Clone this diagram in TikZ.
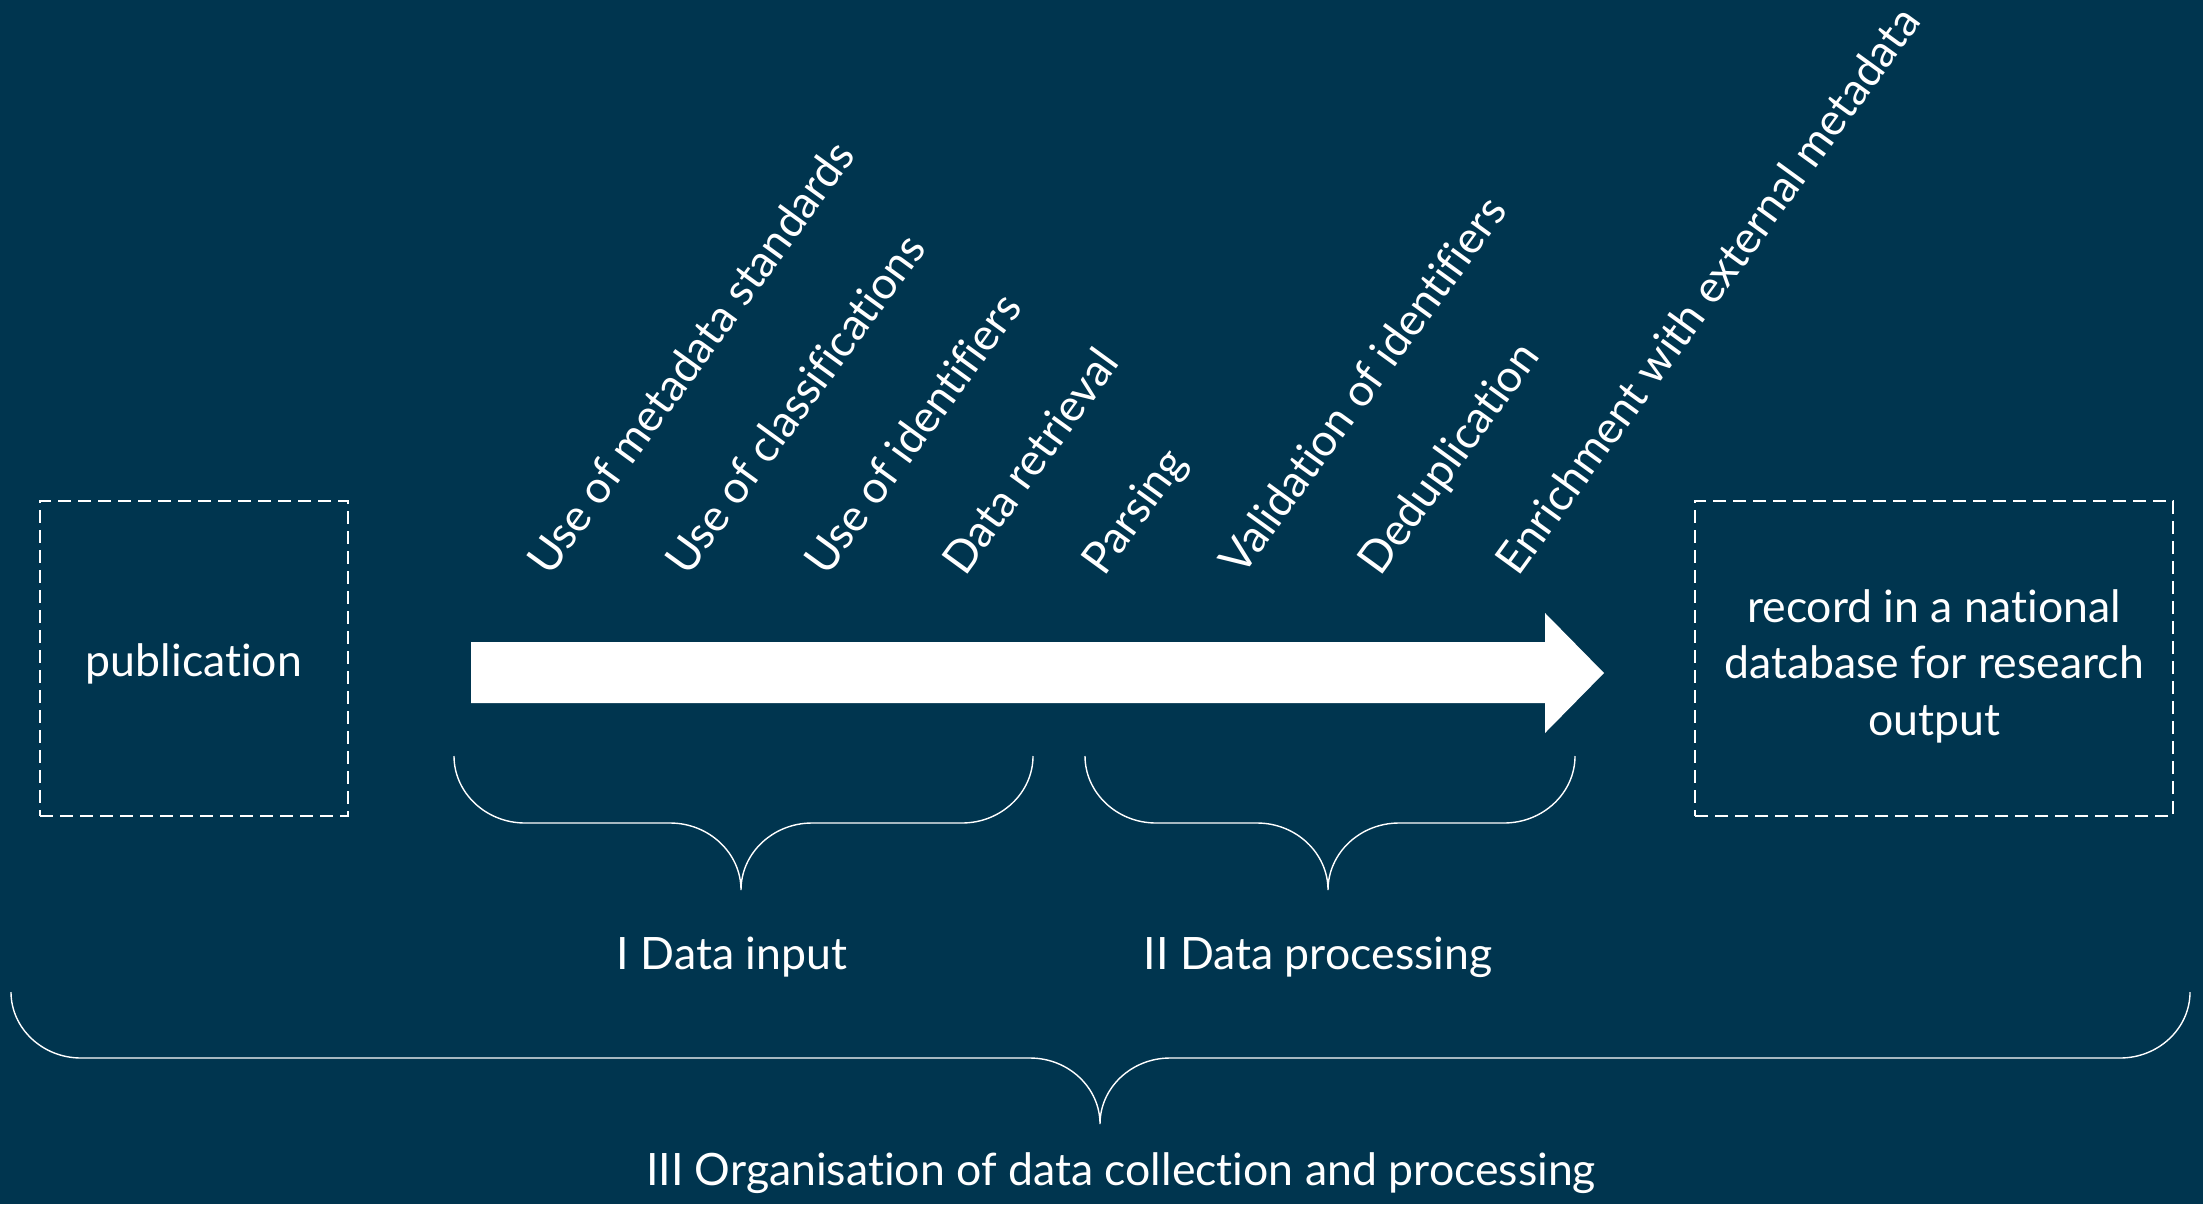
\documentclass[tikz,border=0pt]{standalone}
\usepackage{fontspec}
\setmainfont{Lato}[Ligatures={NoCommon,NoRare,NoContextual}]
\definecolor{bg}{RGB}{0,53,79}
\newcommand{\curlybrace}[7]{% xL xR xC yT yM yB r
  \draw[brace] (#1,#4) .. controls (#1,{#4+0.55*(#5-#4)}) and ({#1+0.45*#7},#5) .. ({#1+#7},#5)
    -- ({#3-#7},#5) .. controls ({#3-0.45*#7},#5) and (#3,{#5+0.45*(#6-#5)}) .. (#3,#6)
    .. controls (#3,{#5+0.45*(#6-#5)}) and ({#3+0.45*#7},#5) .. ({#3+#7},#5)
    -- ({#2-#7},#5) .. controls ({#2-0.45*#7},#5) and (#2,{#4+0.55*(#5-#4)}) .. (#2,#4);}
\begin{document}
\begin{tikzpicture}[x=0.5pt,y=-0.5pt,
  txt/.style={text=white, font=\fontsize{22.3}{28.3}\selectfont, inner sep=0pt, align=center},
  rot/.style={txt, rotate=54, anchor=base west},
  dbox/.style={draw=white, line width=1.4pt, dash pattern=on 6.5pt off 3.5pt},
  brace/.style={draw=white, line width=0.7pt}]
\fill[bg] (0,0) rectangle (2203,1204);
\useasboundingbox (0,0) rectangle (2203,1204);
% boxes
\node[dbox, minimum width=154pt, minimum height=157.5pt] (pub) at (194,658.5) {};
\node[txt] (pubt) at (194,664) {publication};
\node[dbox, minimum width=239pt, minimum height=157.5pt] (rec) at (1934,658.5) {};
\node[txt] (rect) at (1934,666) {record in a national\\database for research\\output};
% big arrow
\fill[white] (471,642) -- (1545,642) -- (1545,613) -- (1604,673) -- (1545,733) -- (1545,703) -- (471,703) -- cycle;
% rotated labels
\node[rot] (t1) at (550,578) {Use of metadata standards};
\node[rot] (t2) at (688,578) {Use of classifications};
\node[rot] (t3) at (827,578) {Use of identifiers};
\node[rot] (t4) at (965,578) {Data retrieval};
\node[rot] (t5) at (1104,578) {Parsing};
\node[rot] (t6) at (1242,578) {Validation of identifiers};
\node[rot] (t7) at (1380,578) {Deduplication};
\node[rot] (t8) at (1518,578) {Enrichment with external metadata};
% braces
\curlybrace{454}{1033}{741}{756}{823}{890}{71}
\curlybrace{1085}{1575}{1328}{756}{823}{890}{71}
\curlybrace{11}{2190}{1100}{992}{1058}{1124}{70}
% labels
\node[txt, anchor=base] (l1) at (732,969) {I Data input};
\node[txt, anchor=base] (l2) at (1318,969) {II Data processing};
\node[txt, anchor=base] (l3) at (1121,1185) {III Organisation of data collection and processing};
\end{tikzpicture}
\end{document}
